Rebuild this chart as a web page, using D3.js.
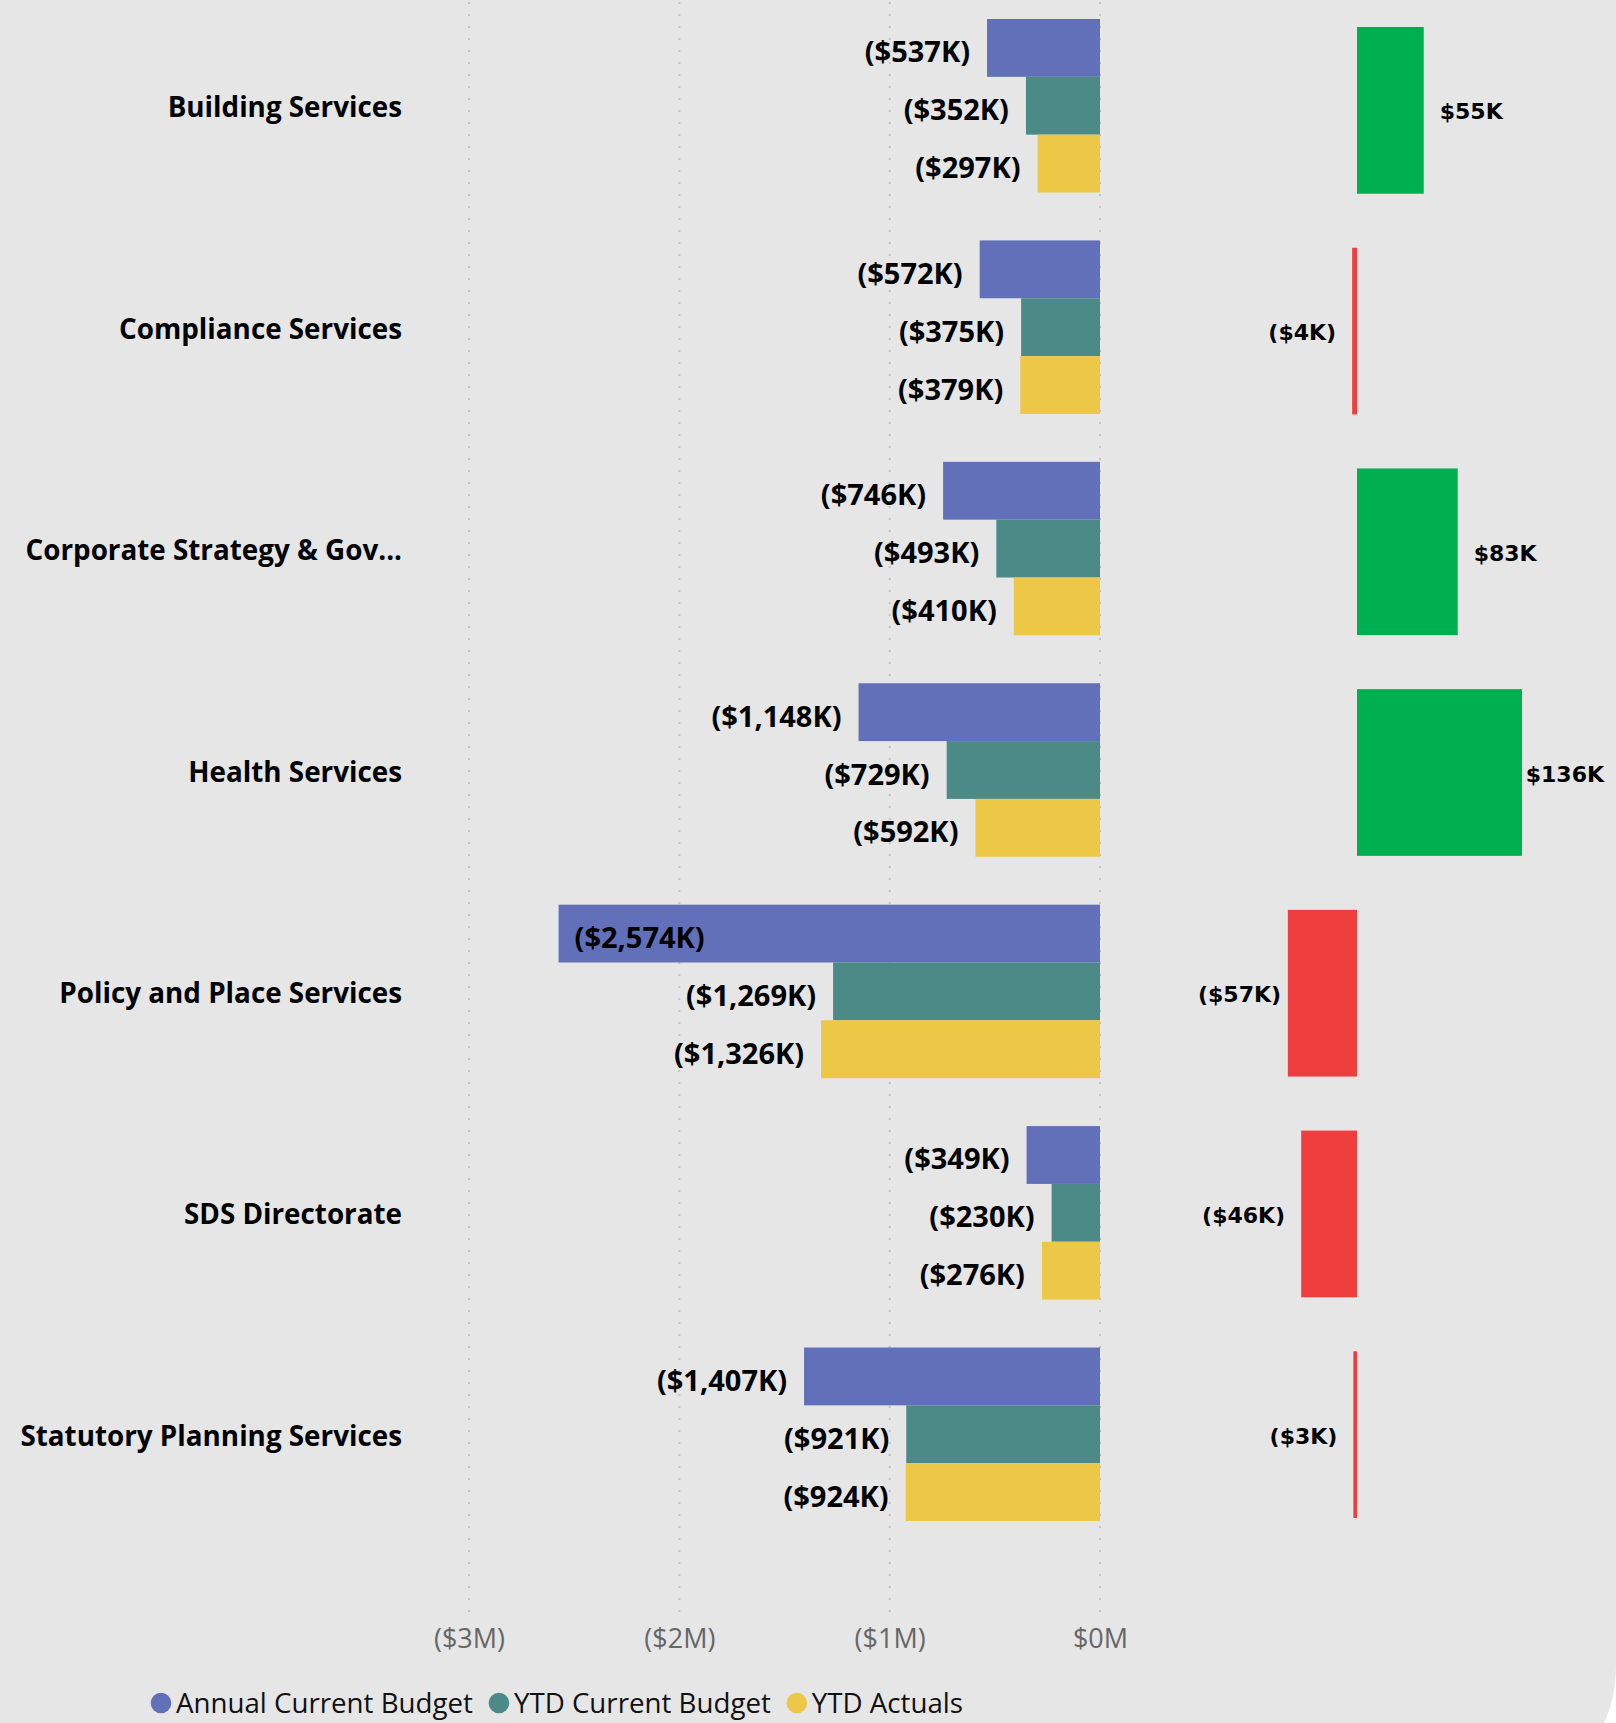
<!DOCTYPE html>
<html>
<head>
<meta charset="utf-8">
<script src="https://cdn.jsdelivr.net/npm/d3@7.9.0/dist/d3.min.js"></script>
<style>
  body { margin: 0; background: #ffffff; }
  svg { display: block; }
  text { font-family: 'Open Sans', sans-serif; }
</style>
</head>
<body>
<div id="chart"></div>
<script>
// values in $K, as shown on the chart
const categories = [
  'Building Services',
  'Compliance Services',
  'Corporate Strategy & Gov...',
  'Health Services',
  'Policy and Place Services',
  'SDS Directorate',
  'Statutory Planning Services',
];
const annualBudget = [-537, -572, -746, -1148, -2574, -349, -1407];
const ytdBudget = [-352, -375, -493, -729, -1269, -230, -921];
const ytdActuals = [-297, -379, -410, -592, -1326, -276, -924];
const variance = [55, -4, 83, 136, -57, -46, -3];
const seriesNames = ['Annual Current Budget', 'YTD Current Budget', 'YTD Actuals'];
const seriesColors = ['#6170B8', '#4B8A87', '#ECC846'];
const xTicks = [-3000, -2000, -1000, 0];

const width = 1616;
const height = 1723;

const svg = d3.select('#chart').append('svg')
  .attr('width', width)
  .attr('height', height);

// grey card with a big rounded bottom-right corner
svg.append('path')
  .attr('d', 'M0,0 H1616 V1667 A138,138 0 0 1 1478,1805 H0 Z')
  .attr('fill', '#E6E6E6');

const xScale = d3.scaleLinear().domain([-3000, 0]).range([469, 1100]);
const yScale = d3.scaleBand().domain(categories).range([19, 1521]).paddingInner(0.2164);
const subScale = d3.scaleBand().domain(seriesNames).range([0, yScale.bandwidth()]);

const vScale = d3.scaleLinear().domain([0, 136]).range([1357, 1522]);
const vyScale = d3.scaleBand().domain(categories).range([27, 1518]).paddingInner(0.2447);

const fmtK = (v) => (v < 0 ? '($' + d3.format(',')(-v) + 'K)' : '$' + d3.format(',')(v) + 'K');
const fmtM = (v) => (v < 0 ? '($' + (-v / 1000) + 'M)' : '$' + v / 1000 + 'M');

// gridlines
svg.append('g')
  .selectAll('line')
  .data(xTicks)
  .join('line')
  .attr('x1', d => xScale(d))
  .attr('x2', d => xScale(d))
  .attr('y1', 2)
  .attr('y2', 1614)
  .attr('stroke', '#C4C4C4')
  .attr('stroke-width', 2)
  .attr('stroke-dasharray', '2,10');

// x axis labels
const xAxis = svg.append('g')
  .attr('transform', 'translate(0,1620)')
  .call(d3.axisBottom(xScale).tickValues(xTicks).tickFormat(fmtM).tickSize(0).tickPadding(0));
xAxis.select('.domain').remove();
xAxis.selectAll('text')
  .attr('dy', null)
  .attr('y', 28)
  .attr('fill', '#666666')
  .style('font-family', "'Open Sans', sans-serif")
  .style('font-size', '27px');

// category labels
svg.append('g')
  .selectAll('text')
  .data(categories)
  .join('text')
  .attr('x', 402)
  .attr('y', d => yScale(d) + yScale.bandwidth() / 2 + 11.5)
  .attr('text-anchor', 'end')
  .attr('font-size', 27.8)
  .attr('font-weight', 700)
  .attr('fill', '#000')
  .text(d => d);

// bars
const rows = [];
categories.forEach((c, i) => {
  [annualBudget, ytdBudget, ytdActuals].forEach((arr, s) => {
    rows.push({ cat: c, series: seriesNames[s], color: seriesColors[s], value: arr[i] });
  });
});

const groups = svg.append('g');
groups.selectAll('rect')
  .data(rows)
  .join('rect')
  .attr('x', d => xScale(Math.min(0, d.value)))
  .attr('y', d => yScale(d.cat) + subScale(d.series))
  .attr('width', d => Math.abs(xScale(d.value) - xScale(0)))
  .attr('height', subScale.bandwidth())
  .attr('fill', d => d.color);

const plotLeft = 430;
const labels = svg.append('g');
labels.selectAll('text')
  .data(rows)
  .join('text')
  .attr('y', d => yScale(d.cat) + subScale(d.series) + subScale.bandwidth() / 2 + 14.5)
  .attr('font-size', 29)
  .attr('font-weight', 700)
  .attr('fill', '#000')
  .text(d => fmtK(d.value))
  .each(function (d) {
    const w = this.getComputedTextLength();
    const left = xScale(d.value);
    if (left - 17 - w < plotLeft) {
      d3.select(this).attr('x', left + 16).attr('text-anchor', 'start');
    } else {
      d3.select(this).attr('x', left - 17).attr('text-anchor', 'end');
    }
  });

// variance bars
const vData = categories.map((c, i) => ({ cat: c, value: variance[i] }));
svg.append('g')
  .selectAll('rect')
  .data(vData)
  .join('rect')
  .attr('x', d => vScale(Math.min(0, d.value)))
  .attr('y', d => vyScale(d.cat))
  .attr('width', d => Math.abs(vScale(d.value) - vScale(0)))
  .attr('height', vyScale.bandwidth())
  .attr('fill', d => (d.value >= 0 ? '#00AF50' : '#EF3E3E'));

const vLeft = 1198;
const vRight = 1604;
svg.append('g')
  .selectAll('text')
  .data(vData)
  .join('text')
  .attr('y', d => vyScale(d.cat) + vyScale.bandwidth() / 2 + 9)
  .style('font-family', "'DejaVu Sans', Verdana, sans-serif")
  .attr('font-size', 22)
  .attr('font-weight', 700)
  .attr('fill', '#000')
  .text(d => fmtK(d.value))
  .each(function (d) {
    const w = this.getComputedTextLength();
    if (d.value >= 0) {
      const x = Math.min(vScale(d.value) + 16, vRight - w);
      d3.select(this).attr('x', x);
    } else {
      const x = Math.max(vScale(d.value) - 16 - w, vLeft);
      d3.select(this).attr('x', x);
    }
  });

// legend
const legend = svg.append('g').attr('transform', 'translate(0,1703)');
let lx = 161;
seriesNames.forEach((name, i) => {
  legend.append('circle')
    .attr('cx', lx)
    .attr('cy', 0)
    .attr('r', 10.3)
    .attr('fill', seriesColors[i]);
  const t = legend.append('text')
    .attr('x', lx + 15)
    .attr('y', 10)
    .attr('font-size', 27.7)
    .attr('fill', '#111')
    .text(name);
  lx += 15 + t.node().getComputedTextLength() + 26;
});
</script>
</body>
</html>
